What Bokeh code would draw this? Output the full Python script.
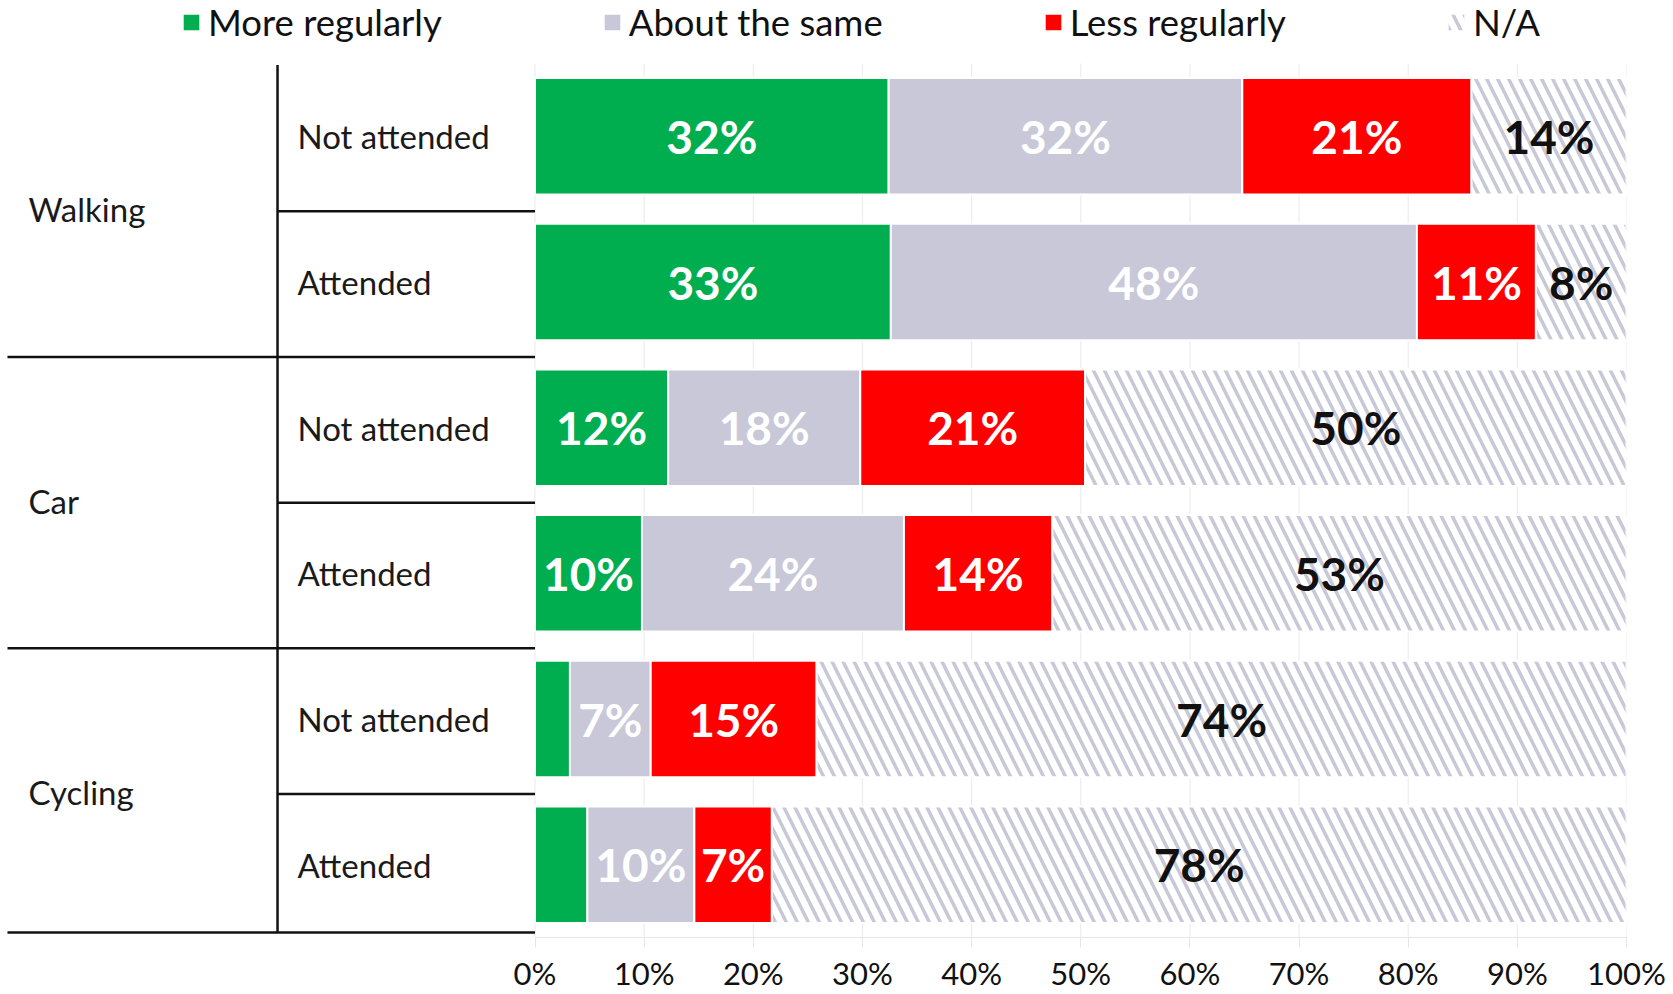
from bokeh.plotting import figure
from bokeh.models import ColumnDataSource, Range1d, FixedTicker, Legend, LegendItem
from bokeh.core.properties import value
from bokeh.embed import file_html
from bokeh.resources import INLINE

# ---------------- data ----------------
groups = ["Walking", "Car", "Cycling"]
subgroups = ["Not attended", "Attended"]
series_names = ["More regularly", "About the same", "Less regularly", "N/A"]
more_regularly = [32.4, 32.6, 12.2, 9.8, 3.2, 4.8]
about_the_same = [32.4, 48.2, 17.6, 24.0, 7.4, 9.8]
less_regularly = [21.0, 10.9, 20.6, 13.6, 15.2, 7.1]
not_applicable = [14.2, 8.3, 49.6, 52.6, 74.2, 78.3]
tick_values = [0, 10, 20, 30, 40, 50, 60, 70, 80, 90, 100]
tick_labels = ["0%", "10%", "20%", "30%", "40%", "50%", "60%", "70%", "80%", "90%", "100%"]

# ---------------- style ----------------
GREEN = "#00AE4F"
GRAY = "#C8C8D8"
RED = "#FF0000"
HATCH = "#C8C8D8"
FONT = "Lato"
TXT = "#1A1A1A"

n_rows = len(groups) * len(subgroups)
rows = list(range(n_rows))

X_LEFT = -48.97
X_SPLIT = -23.59
Y_TOP = -0.9325

p = figure(width=1670, height=994, output_backend="svg", toolbar_location=None,
           x_range=Range1d(X_LEFT, 100), y_range=Range1d(n_rows - 0.5, Y_TOP),
           y_axis_location=None, x_axis_location="below",
           min_border_left=0, min_border_right=44, min_border_top=0, min_border_bottom=57)
p.outline_line_color = None
p.background_fill_color = "white"
p.border_fill_color = "white"
p.xgrid.visible = False
p.ygrid.visible = False

# vertical grid lines
p.segment(x0=tick_values, y0=[-0.5] * len(tick_values), x1=tick_values,
          y1=[n_rows - 0.5] * len(tick_values), line_color="#EDEDED", line_width=1.2)

# stacked bars
series_values = [more_regularly, about_the_same, less_regularly, not_applicable]
colors = [GREEN, GRAY, RED, "white"]
label_colors = ["white", "white", "white", "#111111"]
renderers = []
lefts = [0.0] * n_rows
for k, vals in enumerate(series_values):
    rights = [l + v for l, v in zip(lefts, vals)]
    src = ColumnDataSource(dict(y=rows, left=lefts, right=rights, val=vals))
    kw = {}
    if k == 3:
        kw = dict(hatch_pattern="left_diagonal_line", hatch_color=HATCH,
                  hatch_scale=22, hatch_weight=3.5)
    r = p.hbar(y="y", left="left", right="right", height=0.8, source=src,
               fill_color=colors[k], line_color="white", line_width=2, **kw)
    renderers.append(r)
    lab = dict(x=[], y=[], text=[])
    for i in rows:
        if vals[i] >= 6:
            lab["x"].append((lefts[i] + rights[i]) / 2)
            lab["y"].append(i)
            lab["text"].append(f"{round(vals[i])}%")
    p.text(x="x", y="y", text="text", source=ColumnDataSource(lab),
           text_color=label_colors[k], text_font=value(FONT), text_font_style="bold",
           text_font_size="46px", text_align="center", text_baseline="middle")
    lefts = rights

# left-hand category structure
sub_labels = [subgroups[i % 2] for i in rows]
p.text(x=[X_SPLIT + 1.83] * n_rows, y=rows, text=sub_labels, text_color=TXT,
       text_font=value(FONT), text_font_size="33px", text_align="left",
       text_baseline="middle")
group_y = [2 * g + 0.5 for g in range(len(groups))]
p.text(x=[X_LEFT + 2.57] * len(groups), y=group_y, text=groups, text_color=TXT,
       text_font=value(FONT), text_font_size="33px", text_align="left",
       text_baseline="middle")

sub_sep = [2 * g + 0.515 for g in range(len(groups))]
grp_sep = [min(2 * g + 1.515, n_rows - 0.534) for g in range(len(groups))]
p.segment(x0=[X_SPLIT] * len(sub_sep), y0=sub_sep, x1=[0] * len(sub_sep), y1=sub_sep,
          line_color="#111111", line_width=2.5)
p.segment(x0=[X_LEFT + 0.64] * len(grp_sep), y0=grp_sep, x1=[0] * len(grp_sep), y1=grp_sep,
          line_color="#111111", line_width=2.5)
p.segment(x0=[X_SPLIT], y0=[-0.49], x1=[X_SPLIT], y1=[n_rows - 0.534],
          line_color="#111111", line_width=2.5)

# x axis
ax = p.xaxis[0]
ax.ticker = FixedTicker(ticks=tick_values)
ax.major_label_overrides = {t: l for t, l in zip(tick_values, tick_labels)}
ax.bounds = (0, 100)
ax.axis_line_color = "#E6E6E6"
ax.axis_line_width = 1.2
ax.major_tick_line_color = "#E6E6E6"
ax.major_tick_out = 10
ax.major_tick_in = 0
ax.minor_tick_out = 0
ax.minor_tick_in = 0
ax.major_label_standoff = 6
ax.major_label_text_font = FONT
ax.major_label_text_font_size = "31px"
ax.major_label_text_color = "#111111"

# legend
legend = Legend(items=[LegendItem(label=n, renderers=[r]) for n, r in zip(series_names, renderers)],
                orientation="horizontal", location=(180, 893), spacing=159,
                label_standoff=6, glyph_width=22, glyph_height=22, margin=0, padding=0,
                border_line_color=None, background_fill_alpha=0,
                label_text_font=FONT, label_text_font_size="36.5px", label_text_color="#111111")
p.add_layout(legend)

open("out.html", "w").write(file_html(p, INLINE))
